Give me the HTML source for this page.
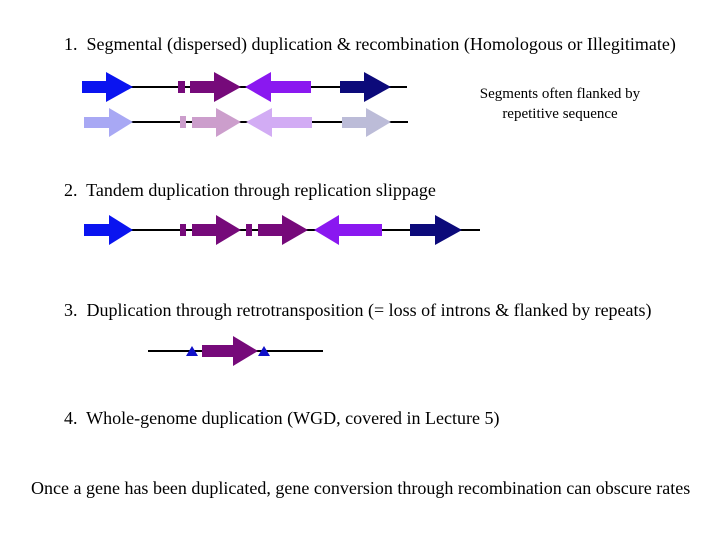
<!DOCTYPE html>
<html><head><style>
body{margin:0;width:720px;height:540px;background:#fff;position:relative;overflow:hidden;font-family:"Liberation Serif",serif;color:#000}
.t{position:absolute;font-size:18px;white-space:nowrap;line-height:20px}
.s{position:absolute;font-size:15px;white-space:nowrap;line-height:20px;text-align:center}
svg{position:absolute;left:0;top:0}
</style></head><body>
<div class="t" style="left:64px;top:34px">1.&nbsp; Segmental (dispersed) duplication &amp; recombination (Homologous or Illegitimate)</div>
<div class="s" style="left:460px;top:84px;width:200px">Segments often flanked by<br>repetitive sequence</div>
<div class="t" style="left:64px;top:180px">2.&nbsp; Tandem duplication through replication slippage</div>
<div class="t" style="left:64px;top:300px">3.&nbsp; Duplication through retrotransposition (= loss of introns &amp; flanked by repeats)</div>
<div class="t" style="left:64px;top:408px">4.&nbsp; Whole-genome duplication (WGD, covered in Lecture 5)</div>
<div class="t" style="left:31px;top:478px">Once a gene has been duplicated, gene conversion through recombination can obscure rates</div>
<svg width="720" height="540">
<g stroke="#000" stroke-width="2">
<line x1="130" y1="87" x2="407" y2="87"/>
<line x1="130" y1="122" x2="408" y2="122"/>
<line x1="130" y1="230" x2="480" y2="230"/>
<line x1="148" y1="351" x2="323" y2="351"/>
</g>
<polygon fill="#0a14f0" points="82,81 106,81 106,72 133,87 106,102 106,93 82,93"/>
<rect fill="#760a7a" x="178" y="81" width="7" height="12"/>
<polygon fill="#760a7a" points="190,81 214,81 214,72 241,87 214,102 214,93 190,93"/>
<polygon fill="#8a18f0" points="245,87 271,72 271,81 311,81 311,93 271,93 271,102"/>
<polygon fill="#0c0a7a" points="340,81 364,81 364,72 391,87 364,102 364,93 340,93"/>
<polygon fill="#a8a8f4" points="84,117 109,117 109,108 133,122 109,137 109,128 84,128"/>
<rect fill="#cc9ecc" x="180" y="116" width="6" height="12"/>
<polygon fill="#cc9ecc" points="192,117 216,117 216,108 241,122 216,137 216,128 192,128"/>
<polygon fill="#d2acf4" points="246,122 272,108 272,117 312,117 312,128 272,128 272,137"/>
<polygon fill="#bcbcd8" points="342,117 366,117 366,108 391,122 366,137 366,128 342,128"/>
<polygon fill="#0a14f0" points="84,224 109,224 109,215 133,230 109,245 109,236 84,236"/>
<rect fill="#760a7a" x="180" y="224" width="6" height="12"/>
<polygon fill="#760a7a" points="192,224 216,224 216,215 241,230 216,245 216,236 192,236"/>
<rect fill="#760a7a" x="246" y="224" width="6" height="12"/>
<polygon fill="#760a7a" points="258,224 282,224 282,215 308,230 282,245 282,236 258,236"/>
<polygon fill="#8a18f0" points="314,230 339,215 339,224 382,224 382,236 339,236 339,245"/>
<polygon fill="#0c0a7a" points="410,224 435,224 435,215 462,230 435,245 435,236 410,236"/>
<polygon fill="#760a7a" points="202,345 233,345 233,336 258,351 233,366 233,357 202,357"/>
<polygon fill="#1010c8" points="186,356 192,346 198,356"/>
<polygon fill="#1010c8" points="258,356 264,346 270,356"/>
</svg>
</body></html>
